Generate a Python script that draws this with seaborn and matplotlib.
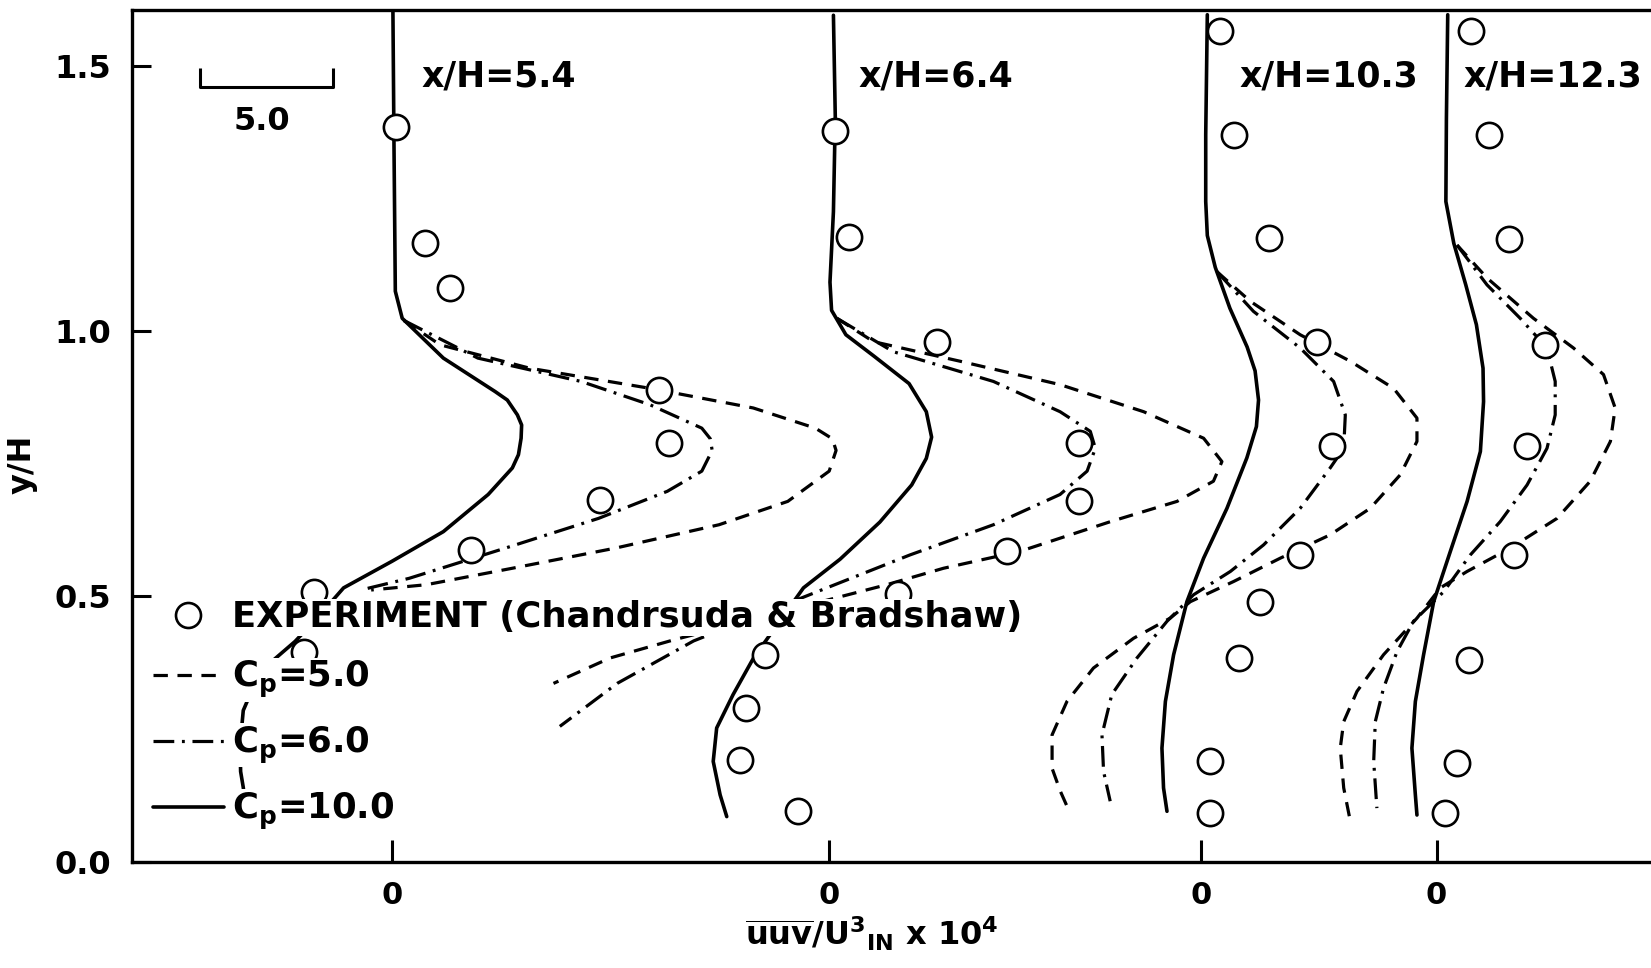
import numpy as np
import matplotlib
matplotlib.use("Agg")
import matplotlib.pyplot as plt
from matplotlib.lines import Line2D
import seaborn as sns

# ------------------------------------------------------------------
# Triple correlation uuv/U^3_IN x 1e4 against y/H at four stations
# ------------------------------------------------------------------
station_names = ["x/H=5.4", "x/H=6.4", "x/H=10.3", "x/H=12.3"]

# x/H = 5.4
exp54_uuv = [0.16, 1.25, 2.18, 10.06, 10.45, 7.85, 2.98, -2.94, -3.30]
exp54_y = [1.385, 1.166, 1.081, 0.889, 0.789, 0.682, 0.588, 0.509, 0.396]
cp5_54_uuv = [0.45, 1.82, 5.19, 9.73, 13.62, 15.96, 16.60, 16.74, 16.48, 14.92, 12.33, 8.43, 4.54, 1.30, -0.78]
cp5_54_y = [1.02, 0.974, 0.930, 0.892, 0.855, 0.817, 0.797, 0.775, 0.736, 0.679, 0.635, 0.591, 0.553, 0.522, 0.512]
cp6_54_uuv = [0.45, 3.24, 7.13, 9.73, 11.68, 12.00, 12.07, 11.68, 10.38, 7.79, 4.28, 0.65, -1.17]
cp6_54_y = [1.02, 0.949, 0.905, 0.861, 0.817, 0.797, 0.775, 0.736, 0.698, 0.647, 0.591, 0.534, 0.512]
cp10_54_uuv = [0.04, 0.08, 0.13, 0.39, 1.94, 3.89, 4.35, 4.73, 4.89, 4.87, 4.77, 4.54, 3.63, 1.94, 0.00,
               -1.82, -2.80, -3.65, -4.67, -5.30, -5.60, -5.72, -5.70, -5.60, -5.50]
cp10_54_y = [1.601, 1.35, 1.075, 1.024, 0.949, 0.886, 0.870, 0.842, 0.823, 0.798, 0.767, 0.742, 0.692,
             0.622, 0.566, 0.516, 0.460, 0.415, 0.371, 0.320, 0.285, 0.220, 0.170, 0.140, 0.100]

# x/H = 6.4
exp64_uuv = [0.22, 0.74, 4.04, 9.39, 9.39, 6.68, 2.60, -2.44, -3.13, -3.38, -1.19]
exp64_y = [1.377, 1.178, 0.980, 0.789, 0.679, 0.585, 0.505, 0.390, 0.289, 0.192, 0.095]
cp5_64_uuv = [0.28, 1.66, 4.93, 8.69, 11.84, 14.10, 14.79, 14.47, 13.10, 10.60, 7.19, 4.30, 2.16,
              -5.87, -8.26, -10.40]
cp5_64_y = [1.024, 0.980, 0.943, 0.899, 0.848, 0.798, 0.754, 0.717, 0.679, 0.641, 0.585, 0.553, 0.522,
            0.418, 0.384, 0.336]
cp6_64_uuv = [0.28, 2.41, 6.18, 8.69, 9.83, 10.02, 9.71, 8.69, 6.18, 3.03, -0.10, -5.12, -8.00, -10.16]
cp6_64_y = [1.024, 0.961, 0.905, 0.848, 0.811, 0.779, 0.736, 0.692, 0.635, 0.578, 0.516, 0.416, 0.336, 0.255]
cp10_64_uuv = [0.15, 0.22, 0.15, 0.02, 0.08, 0.62, 1.67, 3.00, 3.65, 3.85, 3.65, 3.10, 1.90, 0.40,
               -0.98, -2.86, -3.63, -4.25, -4.38, -4.12, -3.87]
cp10_64_y = [1.595, 1.403, 1.225, 1.092, 1.039, 0.993, 0.953, 0.901, 0.848, 0.800, 0.760, 0.710, 0.640,
             0.570, 0.516, 0.384, 0.315, 0.252, 0.189, 0.126, 0.085]

# x/H = 10.3
exp103_uuv = [0.72, 1.25, 2.57, 4.38, 4.94, 3.75, 2.25, 1.43, 0.36, 0.36]
exp103_y = [1.565, 1.370, 1.175, 0.980, 0.783, 0.578, 0.490, 0.384, 0.189, 0.092]
cp5_103_uuv = [0.61, 1.87, 3.75, 5.64, 7.27, 8.15, 8.15, 7.52, 6.39, 4.88, 3.00, 1.24, -0.39,
               -1.15, -2.53, -4.04, -5.04, -5.60, -5.60, -5.29, -4.98]
cp5_103_y = [1.112, 1.056, 0.993, 0.943, 0.892, 0.836, 0.792, 0.729, 0.666, 0.616, 0.572, 0.528, 0.490,
             0.459, 0.421, 0.365, 0.302, 0.239, 0.176, 0.133, 0.098]
cp6_103_uuv = [0.61, 1.99, 3.75, 5.01, 5.45, 5.39, 4.88, 3.75, 2.37, 1.12, -0.27, -1.27, -2.40, -3.35,
               -3.72, -3.66, -3.41]
cp6_103_y = [1.112, 1.037, 0.968, 0.905, 0.842, 0.779, 0.742, 0.666, 0.597, 0.547, 0.503, 0.453, 0.384,
             0.315, 0.239, 0.170, 0.114]
cp10_103_uuv = [0.25, 0.19, 0.19, 0.25, 0.55, 1.10, 1.75, 2.05, 2.18, 2.10, 1.74, 0.99, 0.11, -0.52,
                -1.02, -1.33, -1.46, -1.40, -1.27]
cp10_103_y = [1.596, 1.370, 1.244, 1.180, 1.120, 1.043, 0.970, 0.925, 0.870, 0.820, 0.761, 0.666, 0.572,
              0.490, 0.390, 0.302, 0.214, 0.139, 0.095]

# x/H = 12.3
exp123_uuv = [1.30, 1.96, 2.72, 4.10, 3.41, 2.90, 1.21, 0.77, 0.33]
exp123_y = [1.565, 1.370, 1.173, 0.974, 0.783, 0.578, 0.381, 0.186, 0.092]
cp5_123_uuv = [0.77, 1.90, 3.65, 5.16, 6.29, 6.73, 6.55, 5.79, 4.54, 2.78, 1.15, 0.14, -0.74, -2.00,
               -3.00, -3.50, -3.63, -3.50, -3.25]
cp5_123_y = [1.162, 1.100, 1.024, 0.968, 0.918, 0.855, 0.792, 0.717, 0.647, 0.591, 0.547, 0.516, 0.459,
             0.390, 0.321, 0.264, 0.214, 0.139, 0.076]
cp6_123_uuv = [0.77, 1.90, 3.15, 4.16, 4.47, 4.47, 4.16, 3.41, 2.40, 1.27, 0.27, -0.87, -1.49, -2.00,
               -2.31, -2.37, -2.25]
cp6_123_y = [1.162, 1.087, 1.024, 0.968, 0.905, 0.842, 0.779, 0.710, 0.641, 0.578, 0.509, 0.453, 0.396,
             0.327, 0.264, 0.189, 0.101]
cp10_123_uuv = [0.42, 0.37, 0.35, 0.65, 1.10, 1.50, 1.75, 1.77, 1.65, 1.15, 0.52, -0.11, -0.49, -0.80,
                -0.93, -0.80, -0.74]
cp10_123_y = [1.596, 1.400, 1.244, 1.165, 1.087, 1.012, 0.930, 0.867, 0.773, 0.679, 0.585, 0.490, 0.390,
              0.302, 0.214, 0.126, 0.088]

legend_labels = ["EXPERIMENT (Chandrsuda & Bradshaw)",
                 r"C$_{p}$=5.0", r"C$_{p}$=6.0", r"C$_{p}$=10.0"]
y_ticks = [0.0, 0.5, 1.0, 1.5]
y_tick_labels = ["0.0", "0.5", "1.0", "1.5"]
scale_bar_value = 5.0

# ------------------------------------------------------------------
# layout
# ------------------------------------------------------------------
station_zero = [0.0, 16.49, 30.48, 39.37]      # where each profile's zero sits on the shared axis
station_label_dx = [1.10, 1.08, 1.48, 1.00]

LS_DASH = (0, (4.5, 3.0))
LS_DASHDOT = (0, (6.5, 2.4, 0.9, 2.4))
LW_SOLID = 2.6
LW_MODEL = 2.3

sns.set_style("ticks")
plt.rcParams.update({
    "font.family": ["DejaVu Sans"],
    "font.weight": "bold",
    "mathtext.fontset": "custom",
    "mathtext.rm": "DejaVu Sans:bold",
    "mathtext.it": "DejaVu Sans:bold",
    "mathtext.bf": "DejaVu Sans:bold",
    "mathtext.default": "rm",
    "axes.linewidth": 2.4,
    "axes.edgecolor": "black",
    "axes.labelcolor": "black",
    "xtick.color": "black",
    "ytick.color": "black",
    "text.color": "black",
})

fig = plt.figure(figsize=(16.51, 9.68), dpi=100)
ax = fig.add_axes([0.080, 0.1098, 0.920, 0.8799])

profiles = [
    (exp54_uuv, exp54_y, cp5_54_uuv, cp5_54_y, cp6_54_uuv, cp6_54_y, cp10_54_uuv, cp10_54_y),
    (exp64_uuv, exp64_y, cp5_64_uuv, cp5_64_y, cp6_64_uuv, cp6_64_y, cp10_64_uuv, cp10_64_y),
    (exp103_uuv, exp103_y, cp5_103_uuv, cp5_103_y, cp6_103_uuv, cp6_103_y, cp10_103_uuv, cp10_103_y),
    (exp123_uuv, exp123_y, cp5_123_uuv, cp5_123_y, cp6_123_uuv, cp6_123_y, cp10_123_uuv, cp10_123_y),
]

for zero, name, dx, prof in zip(station_zero, station_names, station_label_dx, profiles):
    eu, ey, u5, y5, u6, y6, u10, y10 = prof
    sns.lineplot(x=zero + np.asarray(u5), y=y5, sort=False, estimator=None, ax=ax,
                 color="black", linewidth=LW_MODEL, linestyle=LS_DASH, zorder=2)
    sns.lineplot(x=zero + np.asarray(u6), y=y6, sort=False, estimator=None, ax=ax,
                 color="black", linewidth=LW_MODEL, linestyle=LS_DASHDOT, zorder=2)
    sns.lineplot(x=zero + np.asarray(u10), y=y10, sort=False, estimator=None, ax=ax,
                 color="black", linewidth=LW_SOLID, linestyle="-", zorder=2)
    sns.scatterplot(x=zero + np.asarray(eu), y=ey, ax=ax, marker="o", s=330,
                    color="white", edgecolor="black", linewidth=1.9, zorder=4)
    ax.text(zero + dx, 1.48, name, fontsize=25, fontweight="bold", ha="left", va="center")

# scale bar for the abscissa
x0 = -7.23
ax.plot([x0, x0, x0 + scale_bar_value, x0 + scale_bar_value], [1.496, 1.459, 1.459, 1.496],
        color="black", lw=2.2, solid_capstyle="butt")
ax.text(x0 + scale_bar_value / 2 - 0.15, 1.395, f"{scale_bar_value:.1f}", fontsize=23,
        fontweight="bold", ha="center", va="center")

ax.set_xlim(-9.79, 47.45)
ax.set_ylim(0.0, 1.605)
ax.set_xticks(station_zero)
ax.set_xticklabels(["0"] * len(station_zero))
ax.set_yticks(y_ticks)
ax.set_yticklabels(y_tick_labels)
ax.tick_params(axis="x", direction="in", length=16, width=2.2, labelsize=22, pad=14,
               top=False, bottom=True)
ax.tick_params(axis="y", direction="in", length=13.5, width=2.2, labelsize=23, pad=15,
               right=False, left=True)
for lbl in ax.get_xticklabels() + ax.get_yticklabels():
    lbl.set_fontweight("bold")
ax.spines["right"].set_visible(False)
for side in ("left", "bottom", "top"):
    ax.spines[side].set_linewidth(2.4)

ax.set_xlabel(r"$\overline{uuv}$/U$^{3}$$_{IN}$ x 10$^{4}$", fontsize=23, fontweight="bold")
ax.xaxis.set_label_coords(0.487, -0.062)
ax.set_ylabel("y/H", fontsize=23, fontweight="bold")
ax.yaxis.set_label_coords(-0.0625, 0.467)

handles = [
    Line2D([], [], linestyle="none", marker="o", markersize=18, markerfacecolor="white",
           markeredgecolor="black", markeredgewidth=1.9),
    Line2D([], [], color="black", lw=LW_MODEL, linestyle=LS_DASH),
    Line2D([], [], color="black", lw=LW_MODEL, linestyle=LS_DASHDOT),
    Line2D([], [], color="black", lw=LW_SOLID, linestyle="-"),
]
leg = ax.legend(handles, legend_labels, loc="upper left", bbox_to_anchor=(0.0136, 0.307),
                frameon=False, prop={"size": 25.5, "weight": "bold"}, handlelength=2.0,
                handletextpad=0.25, labelspacing=0.70, borderpad=0.0, borderaxespad=0.0)
leg.set_zorder(10)
for t in leg.get_texts():
    t.set_bbox(dict(facecolor="white", edgecolor="none", pad=1.0))

fig.savefig("out.png", dpi=100)
